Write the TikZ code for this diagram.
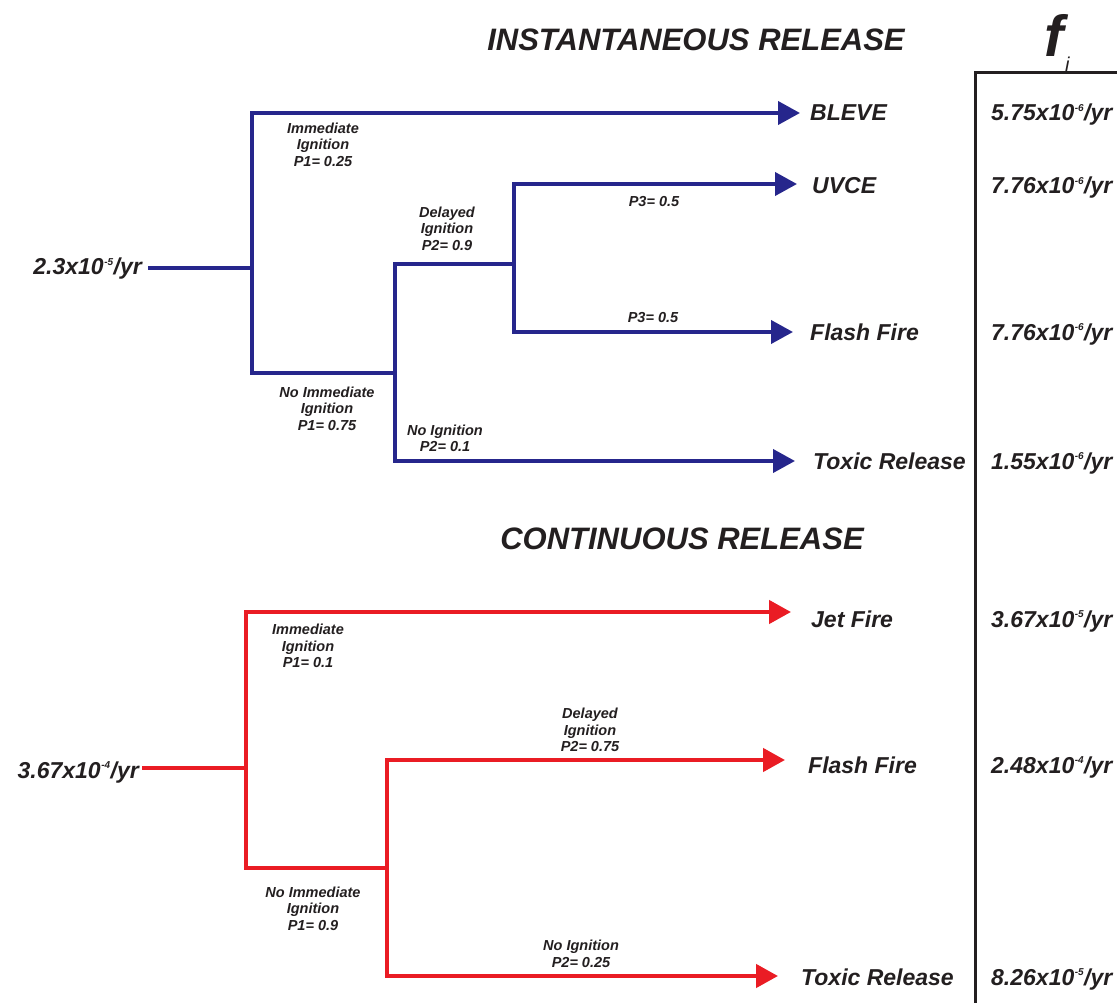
\documentclass[tikz,border=0pt]{standalone}
\usepackage{fontspec}
\setmainfont{Liberation Sans}
\usetikzlibrary{arrows.meta}
\definecolor{navy}{RGB}{38,38,140}
\definecolor{fred}{RGB}{234,28,36}
\definecolor{ink}{RGB}{35,31,32}
\newcommand\mysup[1]{\kern0.5pt\raisebox{0.43em}{\fontsize{10}{10}\selectfont #1}\kern0.5pt}
\tikzset{
  outtext/.style={font=\fontsize{23}{26}\selectfont\bfseries\itshape, text=ink, anchor=base west, inner sep=0pt},
  srctext/.style={font=\fontsize{23}{26}\selectfont\bfseries\itshape, text=ink, anchor=base east, inner ysep=0pt, inner xsep=6pt},
  lbl/.style={font=\fontsize{14.5}{16.5}\selectfont\bfseries\itshape, text=ink, align=center, inner sep=0pt},
  ttl/.style={font=\fontsize{31}{34}\selectfont\bfseries\itshape, text=ink, anchor=base, inner sep=0pt},
  bl/.style={draw=navy, line width=4pt},
  rd/.style={draw=fred, line width=4.5pt},
  arr/.style={-{Triangle[length=22pt,width=23pt]}},
}
\begin{document}
\begin{tikzpicture}[x=1pt,y=-1pt]
\useasboundingbox[fill=white] (0,0) rectangle (1117,1003);
\clip (0,0) rectangle (1117,1003);

% titles
\node[ttl] (t1) at (696,51) {INSTANTANEOUS RELEASE};
\node[ttl] (t2) at (682,549) {CONTINUOUS RELEASE};
\node[font=\fontsize{58}{64}\selectfont\bfseries\itshape, text=ink, anchor=base west, inner sep=0pt] (fsym) at (1044,57) {f};
\node[font=\fontsize{20}{22}\selectfont\itshape, text=ink, anchor=base west, inner sep=0pt] (isym) at (1065,72) {i};

% frequency column frame
\draw[line width=3pt, draw=ink] (975,1010) -- (975,73) -- (1125,73);

% ---------------- instantaneous release (blue) ----------------
\node[srctext] (bsrc) at (148,275) {2.3x10\mysup{-5}/yr};
\coordinate (bj1) at (252,268);
\coordinate (bj2) at (395,373);
\coordinate (bj3) at (514,264);
\coordinate (btB) at (800,113);
\coordinate (btU) at (797,184);
\coordinate (btF) at (793,332);
\coordinate (btT) at (795,461);

\draw[bl] (bsrc.east |- bj1) -- (bj1);
\draw[bl,arr] (bj1) |- (btB);
\draw[bl] (bj1) |- (bj2);
\draw[bl] (bj2) |- (bj3);
\draw[bl,arr] (bj2) |- (btT);
\draw[bl,arr] (bj3) |- (btU);
\draw[bl,arr] (bj3) |- (btF);

\node[outtext] (oB) at (810,121) {BLEVE};
\node[outtext] (oU) at (812,194) {UVCE};
\node[outtext] (oF) at (810,340) {Flash Fire};
\node[outtext] (oT) at (813,469) {Toxic Release};

\node[outtext] (vB) at (991,121) {5.75x10\mysup{-6}/yr};
\node[outtext] (vU) at (991,194) {7.76x10\mysup{-6}/yr};
\node[outtext] (vF) at (991,340) {7.76x10\mysup{-6}/yr};
\node[outtext] (vT) at (991,469) {1.55x10\mysup{-6}/yr};

\node[lbl] (bl1) at (323,144.5) {Immediate\\Ignition\\P1= 0.25};
\node[lbl] (bl2) at (327,408.5) {No Immediate\\Ignition\\P1= 0.75};
\node[lbl] (bl3) at (447,228.5) {Delayed\\Ignition\\P2= 0.9};
\node[lbl] (bl4) at (445,438.5) {No Ignition\\P2= 0.1};
\node[lbl] (bl5) at (654,202) {P3= 0.5};
\node[lbl] (bl6) at (653,318) {P3= 0.5};

% ---------------- continuous release (red) ----------------
\node[srctext, inner xsep=3pt] (rsrc) at (142,778) {3.67x10\mysup{-4}/yr};
\coordinate (rj1) at (246,768);
\coordinate (rj2) at (387,868);
\coordinate (rtJ) at (791,612);
\coordinate (rtF) at (785,760);
\coordinate (rtT) at (778,976);

\draw[rd] (rsrc.east |- rj1) -- (rj1);
\draw[rd,arr] (rj1) |- (rtJ);
\draw[rd] (rj1) |- (rj2);
\draw[rd,arr] (rj2) |- (rtF);
\draw[rd,arr] (rj2) |- (rtT);

\node[outtext] (oJ) at (811,627) {Jet Fire};
\node[outtext] (oF2) at (808,773) {Flash Fire};
\node[outtext] (oT2) at (801,985) {Toxic Release};

\node[outtext] (vJ) at (991,627) {3.67x10\mysup{-5}/yr};
\node[outtext] (vF2) at (991,773) {2.48x10\mysup{-4}/yr};
\node[outtext] (vT2) at (991,985) {8.26x10\mysup{-5}/yr};

\node[lbl] (rl1) at (308,646) {Immediate\\Ignition\\P1= 0.1};
\node[lbl] (rl2) at (313,908.5) {No Immediate\\Ignition\\P1= 0.9};
\node[lbl] (rl3) at (590,730) {Delayed\\Ignition\\P2= 0.75};
\node[lbl] (rl4) at (581,954) {No Ignition\\P2= 0.25};
\end{tikzpicture}
\end{document}
